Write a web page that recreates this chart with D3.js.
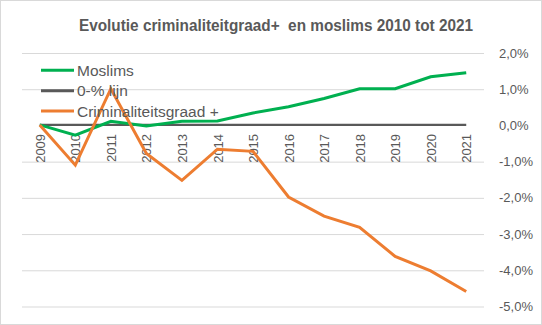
<!DOCTYPE html>
<html><head><meta charset="utf-8">
<script src="https://cdn.jsdelivr.net/npm/d3@7"></script>
<style>body{margin:0;background:#fff}svg{display:block}</style>
</head><body>
<svg id="c" width="542" height="325"></svg>
<script>
const years = ["2009","2010","2011","2012","2013","2014","2015","2016","2017","2018","2019","2020","2021"];
const moslims = [0, -0.28, 0.1, -0.03, 0.1, 0.11, 0.33, 0.5, 0.73, 1.0, 1.0, 1.33, 1.44];
const nulLijn = [0,0,0,0,0,0,0,0,0,0,0,0,0];
const crimi = [0, -1.11, 1.0, -0.79, -1.53, -0.67, -0.73, -1.99, -2.52, -2.83, -3.63, -4.03, -4.6];
const yTicks = [2,1,0,-1,-2,-3,-4,-5];
const seriesNames = ["Moslims","0-% lijn","Criminaliteitsgraad +"];
const title = "Evolutie criminaliteitgraad+  en moslims 2010 tot 2021";

const svg = d3.select("#c");
const W = 542, H = 325;
const font = "'Liberation Sans', Arial, sans-serif";
svg.append("rect").attr("x",0.5).attr("y",0.5).attr("width",W-1).attr("height",H-1)
  .attr("fill","#fff").attr("stroke","#d9d9d9");

const x = d3.scalePoint().domain(years).range([22,484]).padding(0.5);
const y = d3.scaleLinear().domain([-5,2]).range([306,52.5]);

const yAxis = d3.axisRight(y).tickValues(yTicks).tickSize(0)
  .tickFormat(d => d3.format(".1f")(d).replace(".", ",").replace("−","-") + "%");
const ga = svg.append("g").attr("transform","translate(499,0)").call(yAxis);
ga.select(".domain").remove();
ga.selectAll("text").attr("x",0).attr("dy","0.35em").attr("fill","#595959")
  .style("font-family",font).style("font-size","13px");

const gg = svg.append("g").call(d3.axisLeft(y).tickValues(yTicks).tickSize(-(484-22)).tickFormat(""))
  .attr("transform","translate(22,0)");
gg.select(".domain").remove();
gg.selectAll("line").attr("stroke","#d9d9d9").attr("stroke-width",1).attr("transform","translate(0,0.5)");
gg.selectAll(".tick").filter(d=>d===0).remove();

const line = d3.line().x((d,i)=>x(years[i])).y(d=>y(d));
const colors = ["#00b050","#595959","#ed7d31"];

svg.append("path").datum(nulLijn).attr("d",line).attr("fill","none")
  .attr("stroke",colors[1]).attr("stroke-width",2.25);

const xAxis = d3.axisBottom(x).tickSize(0);
const gx = svg.append("g").attr("transform",`translate(0,${y(0)})`).call(xAxis);
gx.select(".domain").remove();
gx.selectAll("text").attr("transform","rotate(-90)").attr("text-anchor","end")
  .attr("x",-9).attr("y",0).attr("dy","0.35em").attr("fill","#595959")
  .style("font-family",font).style("font-size","13px");

svg.append("path").datum(moslims).attr("d",line).attr("fill","none")
  .attr("stroke",colors[0]).attr("stroke-width",3);
svg.append("path").datum(crimi).attr("d",line).attr("fill","none")
  .attr("stroke",colors[2]).attr("stroke-width",3);

const lg = svg.append("g");
seriesNames.forEach((n,i)=>{
  const yy = 70.3 + i*20.4;
  lg.append("line").attr("x1",41).attr("x2",74).attr("y1",yy).attr("y2",yy)
    .attr("stroke",colors[i]).attr("stroke-width",3);
  lg.append("text").attr("x",77).attr("y",yy).attr("dy","0.35em").text(n)
    .attr("fill","#595959").style("font-family",font).style("font-size","15.5px");
});

svg.append("text").attr("x",79).attr("y",31).text(title)
  .attr("textLength",394).attr("lengthAdjust","spacingAndGlyphs")
  .style("white-space","pre")
  .attr("fill","#595959").style("font-family",font).style("font-size","16px").style("font-weight","bold");
</script>
</body></html>
